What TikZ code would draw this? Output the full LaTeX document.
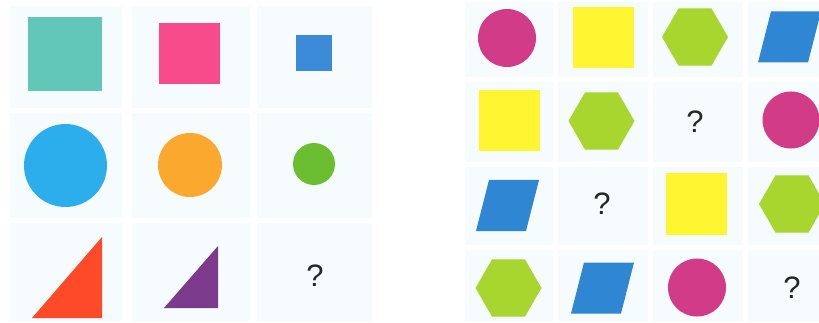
\documentclass[tikz,border=0pt]{standalone}
\usepackage{fontspec}
\newfontfamily\askfont{Liberation Sans}
\usepackage{xcolor}
\definecolor{cellbg}{HTML}{F6FBFD}
\definecolor{tealsq}{HTML}{62C6B9}
\definecolor{pinksq}{HTML}{F84B8C}
\definecolor{bluesq}{HTML}{3B8BD8}
\definecolor{skycirc}{HTML}{2DAEEC}
\definecolor{orangecirc}{HTML}{FBA82E}
\definecolor{greencirc}{HTML}{6BBE2F}
\definecolor{redtri}{HTML}{FF4A2A}
\definecolor{purpletri}{HTML}{7B3A8C}
\definecolor{magentacirc}{HTML}{D23B87}
\definecolor{yellowsq}{HTML}{FFF531}
\definecolor{limehex}{HTML}{A8D62E}
\definecolor{bluepar}{HTML}{2F86D2}
\usepackage{tikz}
\usetikzlibrary{shapes.geometric}
\tikzset{
  cell/.style={fill=cellbg, draw=none},
  disc/.style={circle, inner sep=0pt, draw=none},
  box/.style={rectangle, inner sep=0pt, draw=none},
  hexa/.style={regular polygon, regular polygon sides=6, minimum size=66pt,
    inner sep=0pt, fill=limehex, draw=none},
  ask/.style={font=\askfont\fontsize{31}{31}\selectfont, inner sep=0pt, text=black!85}
}
% parallelogram centred at #1
\newcommand{\slab}[1]{%
  \fill[bluepar, shift={#1}] (-31.5,25.5) -- (18.5,25.5) -- (31.5,-25.5) -- (-18.5,-25.5) -- cycle;}

\begin{document}
\begin{tikzpicture}[x=1pt, y=-1pt]
\useasboundingbox (0,0) rectangle (819,323);
\fill[white] (0,0) rectangle (819,323);

% faint cells, left grid
\foreach \xa/\xb in {10/122, 132/250, 257/372}
  \foreach \ya/\yb in {6/108, 113/218, 223/321}
    \fill[cell] (\xa,\ya) rectangle (\xb,\yb);

% faint cells, right grid
\foreach \xa/\xb in {465/553, 558/648, 653/743, 748/819}
  \foreach \ya/\yb in {2/77, 82/162, 167/245, 250/321}
    \fill[cell] (\xa,\ya) rectangle (\xb,\yb);

% left grid: squares
\node[box, fill=tealsq, minimum size=74pt] (sqa) at (65,54) {};
\node[box, fill=pinksq, minimum size=61pt] (sqb) at (189,53.5) {};
\node[box, fill=bluesq, minimum size=36pt] (sqc) at (313.5,53) {};

% left grid: circles
\node[disc, fill=skycirc, minimum size=83pt] (cia) at (65.5,165.5) {};
\node[disc, fill=orangecirc, minimum size=64pt] (cib) at (190,165) {};
\node[disc, fill=greencirc, minimum size=42pt] (cic) at (314,164) {};

% left grid: triangles
\fill[redtri] (32,318) -- (102,237) -- (102,318) -- cycle;
\fill[purpletri] (164,308) -- (218,246) -- (218,308) -- cycle;
\node[ask] (qa) at (315,276) {?};

% right grid, row 1
\node[disc, fill=magentacirc, minimum size=58pt] (ra) at (507,38) {};
\node[box, fill=yellowsq, minimum size=61pt] (rb) at (603.5,38) {};
\node[hexa] (rc) at (695,37) {};
\slab{(789.5,37)}

% right grid, row 2
\node[box, fill=yellowsq, minimum size=61pt] (sa) at (509,121) {};
\node[hexa] (sb) at (601.5,121) {};
\node[ask] (qb) at (695,122) {?};
\node[disc, fill=magentacirc, minimum size=57pt] (sd) at (791,120) {};

% right grid, row 3
\slab{(507.5,205.5)}
\node[ask] (qc) at (602,204) {?};
\node[box, fill=yellowsq, minimum size=61pt] (tc) at (696.5,204) {};
\node[hexa] (td) at (792,204) {};

% right grid, row 4
\node[hexa] (ua) at (508.5,288) {};
\slab{(602.5,288)}
\node[disc, fill=magentacirc, minimum size=58pt] (uc) at (697,287.5) {};
\node[ask] (qd) at (792,288) {?};

\end{tikzpicture}
\end{document}
